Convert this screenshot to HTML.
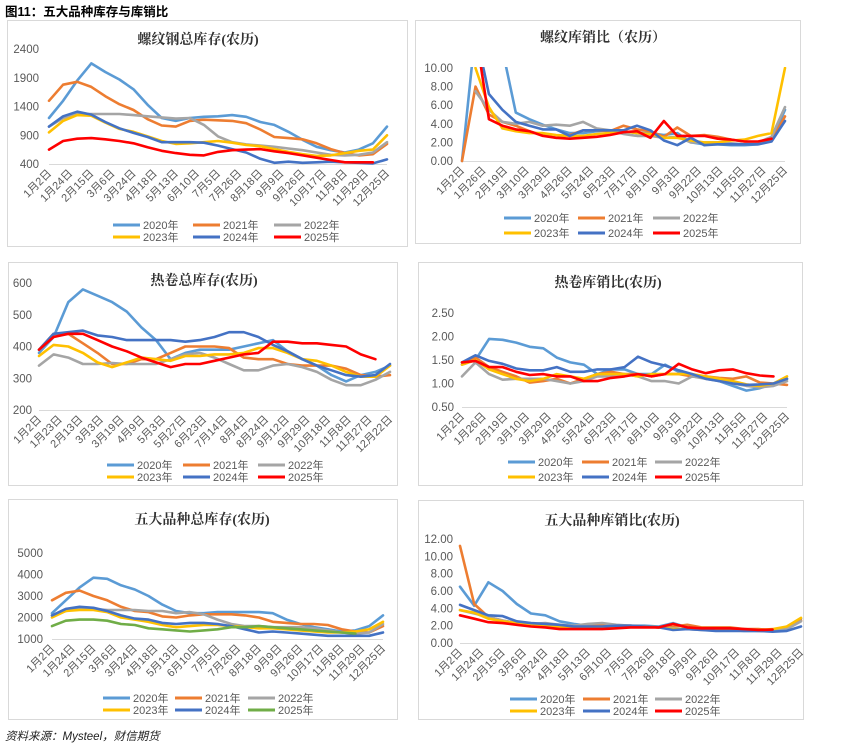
<!DOCTYPE html>
<html><head><meta charset="utf-8">
<style>
html,body{margin:0;padding:0;background:#fff;}
svg{display:block;font-family:"Liberation Sans","Noto Sans CJK SC",sans-serif;}
.ttl{font-family:"Liberation Serif","Noto Serif CJK SC",serif;font-weight:bold;font-size:14px;fill:#333;}
.tk{font-size:11.5px;fill:#595959;}
.xl{font-size:11px;fill:#595959;}
.lg{font-size:11px;fill:#595959;}
</style></head>
<body>
<svg id="s" width="865" height="743" viewBox="0 0 865 743" xmlns="http://www.w3.org/2000/svg">
<text x="5" y="16" style="font-size:12.5px;font-weight:bold;font-family:'Liberation Sans','Noto Sans CJK SC',sans-serif" fill="#000">图11：五大品种库存与库销比</text>
<text x="5" y="740" style="font-size:11.5px;font-style:italic" fill="#222">资料来源：Mysteel，财信期货</text>
</svg>
<script>
// ---- labels ----
const xLabelsA = ["1月2日","1月24日","2月15日","3月6日","3月24日","4月18日","5月13日","6月10日","7月5日","7月26日","8月18日","9月9日","9月26日","10月17日","11月8日","11月29日","12月25日"];
const xLabelsB = ["1月2日","1月26日","2月19日","3月10日","3月29日","4月26日","5月24日","6月23日","7月17日","8月10日","9月3日","9月22日","10月13日","11月5日","11月27日","12月25日"];
const xLabelsC = ["1月2日","1月23日","2月13日","3月3日","3月19日","4月9日","5月3日","5月27日","6月23日","7月14日","8月4日","8月24日","9月12日","9月29日","10月18日","11月8日","11月27日","12月22日"];
const seriesNames = ["2020年","2021年","2022年","2023年","2024年","2025年"];
const yTicks1 = [400,900,1400,1900,2400];
const yTicks2 = [0,2,4,6,8,10];
const yTicks3 = [200,300,400,500,600];
const yTicks4 = [0.5,1.0,1.5,2.0,2.5];
const yTicks5 = [1000,2000,3000,4000,5000];
const yTicks6 = [0,2,4,6,8,10,12];
// ---- chart 1: rebar inventory ----
const rebarInv2020 = [1200,1500,1850,2150,2000,1870,1700,1430,1200,1150,1200,1220,1230,1250,1220,1130,1080,960,820,700,640,600,650,760,1050];
const rebarInv2021 = [1500,1780,1830,1740,1580,1440,1340,1180,1070,1050,1150,1170,1160,1150,1110,1000,870,850,830,760,660,590,550,570,750];
const rebarInv2022 = [1050,1200,1270,1270,1270,1270,1250,1230,1210,1190,1200,1080,880,780,740,720,700,670,640,600,560,550,560,600,780];
const rebarInv2023 = [950,1150,1250,1240,1120,1010,960,880,800,750,760,780,800,770,730,710,660,610,570,540,550,590,630,650,900];
const rebarInv2024 = [1050,1230,1310,1260,1130,1020,940,870,780,780,780,770,720,660,600,490,420,440,420,430,440,430,420,410,480];
const rebarInv2025 = [650,800,840,850,830,800,760,690,630,590,560,550,610,640,650,660,620,590,550,510,470,430,430,430,null];
// ---- chart 2: rebar ratio ----
const rebarRat2020 = [0,14,14,12,5.2,4.5,3.9,3.4,3.0,3.0,3.2,3.3,3.2,3.0,3.0,2.8,3.0,2.0,1.8,1.8,1.7,1.7,1.8,2.2,5.5];
const rebarRat2021 = [0,8,5,4.2,3.8,3.2,2.8,2.5,2.8,3.3,3.3,3.2,3.8,3.4,3.2,2.6,3.6,2.7,2.8,2.6,2.3,2.1,2.0,2.2,4.8];
const rebarRat2022 = [null,7.5,5.5,4.2,4.0,4.2,3.8,3.9,3.8,4.2,3.5,3.3,2.9,2.7,2.7,2.5,2.6,2.0,2.0,2.0,1.9,1.8,2.0,2.6,5.8];
const rebarRat2023 = [null,10,5.8,3.5,3.2,3.0,3.0,2.8,2.7,2.7,2.9,3.0,3.2,3.0,2.9,2.5,2.5,2.2,2.0,2.0,2.2,2.3,2.7,3.0,10];
const rebarRat2024 = [null,14,7.2,5.5,4.2,3.8,3.4,3.4,2.7,3.3,3.3,3.3,3.3,3.8,3.3,2.2,1.7,2.5,1.7,1.8,1.8,1.8,1.8,2.1,4.3];
const rebarRat2025 = [null,14,4.5,3.8,3.4,3.2,2.7,2.5,2.4,2.5,2.6,2.8,3.1,3.2,2.5,4.3,2.7,2.7,2.7,2.4,2.3,2.1,2.1,2.4,null];
// ---- chart 3: HRC inventory ----
const hrcInv2020 = [380,430,540,580,560,540,510,460,420,360,380,390,390,390,400,410,420,385,360,340,310,290,310,320,340];
const hrcInv2021 = [390,440,440,410,380,345,345,360,360,380,400,400,400,395,365,360,360,345,340,340,340,330,310,305,310];
const hrcInv2022 = [340,375,365,345,345,348,345,345,345,360,375,380,365,345,325,325,340,345,335,320,295,278,278,295,320];
const hrcInv2023 = [370,405,400,380,350,335,350,365,360,355,370,370,375,375,380,395,395,380,360,355,340,320,305,305,340];
const hrcInv2024 = [390,440,445,450,435,430,420,420,420,420,415,420,430,445,445,430,405,385,360,340,325,310,305,310,345];
const hrcInv2025 = [390,430,440,440,420,400,385,365,350,335,345,345,355,365,375,380,415,415,410,410,405,400,375,360,null];
// ---- chart 4: HRC ratio ----
const hrcRat2020 = [1.4,1.5,1.95,1.93,1.87,1.78,1.75,1.55,1.45,1.4,1.2,1.3,1.3,1.2,1.2,1.4,1.25,1.15,1.12,1.05,0.95,0.85,0.9,1.0,1.1];
const hrcRat2021 = [1.45,1.55,1.35,1.25,1.15,1.02,1.05,1.1,1.0,1.1,1.2,1.25,1.2,1.2,1.15,1.2,1.2,1.15,1.15,1.12,1.1,1.15,1.02,1.0,0.97];
const hrcRat2022 = [1.15,1.45,1.2,1.08,1.1,1.1,1.1,1.05,1.0,1.05,1.15,1.15,1.2,1.15,1.05,1.05,1.0,1.15,1.1,1.05,1.0,0.95,0.92,0.95,1.05];
const hrcRat2023 = [1.4,1.5,1.3,1.2,1.1,1.05,1.1,1.2,1.15,1.1,1.2,1.2,1.2,1.15,1.2,1.2,1.2,1.2,1.15,1.1,1.05,0.98,0.95,1.0,1.15];
const hrcRat2024 = [1.45,1.6,1.48,1.42,1.32,1.28,1.28,1.35,1.25,1.25,1.3,1.3,1.35,1.57,1.45,1.38,1.28,1.2,1.1,1.05,1.0,0.97,0.98,1.0,1.1];
const hrcRat2025 = [1.45,1.48,1.35,1.35,1.25,1.18,1.2,1.15,1.15,1.05,1.05,1.12,1.15,1.2,1.15,1.2,1.42,1.3,1.22,1.28,1.3,1.22,1.17,1.15,null];
// ---- chart 5: five-variety inventory ----
const fiveInv2020 = [2200,2800,3400,3850,3800,3500,3300,3000,2600,2300,2200,2200,2250,2250,2250,2250,2200,1900,1700,1550,1450,1350,1400,1600,2100];
const fiveInv2021 = [2800,3150,3250,3000,2800,2500,2300,2250,2050,2000,2100,2150,2150,2150,2100,2000,1800,1750,1700,1700,1650,1450,1350,1300,1600];
const fiveInv2022 = [2100,2300,2400,2400,2350,2350,2350,2300,2300,2200,2250,2150,1900,1700,1600,1600,1550,1550,1550,1500,1400,1300,1250,1300,1700];
const fiveInv2023 = [2000,2300,2350,2350,2250,2000,1900,1800,1650,1550,1600,1650,1650,1600,1550,1500,1500,1450,1400,1350,1300,1300,1350,1450,1800];
const fiveInv2024 = [2100,2400,2500,2450,2300,2100,1950,1900,1750,1700,1750,1750,1700,1600,1450,1300,1350,1300,1250,1200,1150,1150,1150,1150,1300];
const fiveInv2025 = [1600,1850,1900,1900,1850,1700,1650,1500,1450,1400,1350,1400,1450,1550,1550,1600,1550,1500,1450,1400,1350,1300,1250,null,null];
// ---- chart 6: five-variety ratio ----
const fiveRat2020 = [6.5,4.3,7.0,6.0,4.5,3.4,3.2,2.5,2.2,2.0,2.0,2.0,2.0,2.0,1.9,2.3,1.8,1.6,1.5,1.5,1.4,1.4,1.5,1.8,2.8];
const fiveRat2021 = [11.2,4.5,3.0,2.6,2.3,2.2,2.0,2.0,1.9,2.0,2.0,2.0,2.0,1.9,1.8,1.9,2.1,1.8,1.8,1.8,1.6,1.6,1.5,1.8,2.6];
const fiveRat2022 = [3.8,3.4,3.0,2.6,2.3,2.2,2.3,2.1,2.0,2.2,2.3,2.1,2.0,1.9,1.8,1.7,1.6,1.5,1.5,1.5,1.5,1.4,1.4,1.6,2.5];
const fiveRat2023 = [3.8,3.5,2.8,2.5,2.3,2.1,2.0,1.8,1.7,1.7,1.8,1.9,1.9,1.9,1.8,1.6,1.6,1.6,1.6,1.5,1.5,1.5,1.6,1.9,2.9];
const fiveRat2024 = [4.4,3.8,3.2,3.1,2.5,2.3,2.2,2.1,1.9,1.9,1.9,2.0,2.0,1.9,1.8,1.5,1.6,1.5,1.4,1.4,1.4,1.4,1.3,1.4,1.9];
const fiveRat2025 = [3.2,2.8,2.4,2.3,2.1,1.9,1.8,1.6,1.6,1.6,1.6,1.7,1.8,1.8,1.8,2.2,1.8,1.7,1.7,1.7,1.6,1.5,1.55,null,null];

const colorsA = ["#5B9BD5","#ED7D31","#A5A5A5","#FFC000","#4472C4","#FF0000"];
const colorsG = ["#5B9BD5","#ED7D31","#A5A5A5","#FFC000","#4472C4","#70AD47"];

const charts = [
 {id:"rebar-inventory",title:"螺纹钢总库存(农历)",box:[7,20,400,226],tx:198,ty:44,pl:49,pr:387,pt:49,pb:164,labR:39,yt:yTicks1,dec:0,xl:xLabelsA,
  series:[rebarInv2020,rebarInv2021,rebarInv2022,rebarInv2023,rebarInv2024,rebarInv2025],colors:colorsA,lgx:[113,193,274],lgy:[225,237]},
 {id:"rebar-ratio",title:"螺纹库销比（农历）",box:[415,20,385,223],tx:603,ty:42,pl:462,pr:785,pt:68,pb:161,labR:453,yt:yTicks2,dec:2,xl:xLabelsB,
  series:[rebarRat2020,rebarRat2021,rebarRat2022,rebarRat2023,rebarRat2024,rebarRat2025],colors:colorsA,lgx:[504,578,653],lgy:[218,233]},
 {id:"hrc-inventory",title:"热卷总库存(农历)",box:[8,262,389,223],tx:204,ty:285,pl:39,pr:390,pt:283,pb:410,labR:32,yt:yTicks3,dec:0,xl:xLabelsC,
  series:[hrcInv2020,hrcInv2021,hrcInv2022,hrcInv2023,hrcInv2024,hrcInv2025],colors:colorsA,lgx:[107,183,258],lgy:[465,477]},
 {id:"hrc-ratio",title:"热卷库销比(农历)",box:[418,262,384,223],tx:608,ty:287,pl:462,pr:787,pt:313,pb:407,labR:454,yt:yTicks4,dec:2,xl:xLabelsB,
  series:[hrcRat2020,hrcRat2021,hrcRat2022,hrcRat2023,hrcRat2024,hrcRat2025],colors:colorsA,lgx:[508,582,655],lgy:[462,477]},
 {id:"five-inventory",title:"五大品种总库存(农历)",box:[8,499,389,220],tx:202,ty:524,pl:52,pr:383,pt:553,pb:639,labR:43,yt:yTicks5,dec:0,xl:xLabelsA,
  series:[fiveInv2020,fiveInv2021,fiveInv2022,fiveInv2023,fiveInv2024,fiveInv2025],colors:colorsG,lgx:[103,175,248],lgy:[698,710]},
 {id:"five-ratio",title:"五大品种库销比(农历)",box:[418,500,385,219],tx:612,ty:525,pl:460,pr:801,pt:539,pb:643,labR:453,yt:yTicks6,dec:2,xl:xLabelsA,
  series:[fiveRat2020,fiveRat2021,fiveRat2022,fiveRat2023,fiveRat2024,fiveRat2025],colors:colorsA,lgx:[510,583,655],lgy:[699,711]}
];

const svg = document.getElementById('s');
const NS = "http://www.w3.org/2000/svg";
function mk(tag, attrs, parent){const e=document.createElementNS(NS,tag);for(const k in attrs)e.setAttribute(k,attrs[k]);(parent||svg).appendChild(e);return e;}

charts.forEach((c,ci)=>{
  const g = mk('g',{});
  
  
  const b = mk('rect',{x:c.box[0]+0.5,y:c.box[1]+0.5,width:c.box[2],height:c.box[3],fill:'#fff',stroke:'#d9d9d9','stroke-width':1},g);
  
  
  const t = mk('text',{x:c.tx,y:c.ty,'text-anchor':'middle',class:'ttl'},g);
  t.textContent = c.title;
  
  
  const ymin=c.yt[0], ymax=c.yt[c.yt.length-1];
  const yS = v => c.pb - (v-ymin)/(ymax-ymin)*(c.pb-c.pt);
  const n = c.series[0].length;
  const xS = i => c.pl + i*(c.pr-c.pl)/(n-1);
  c.yt.forEach(v=>{
    const tt = mk('text',{x:c.labR,y:yS(v)+4,'text-anchor':'end',class:'tk'},g);
    tt.textContent = v.toFixed(c.dec);
    
    
  });
  const ax = mk('line',{x1:c.pl,x2:c.pr,y1:c.pb+0.5,y2:c.pb+0.5,stroke:'#d9d9d9','stroke-width':1},g);
  
  
  const nl = c.xl.length;
  c.xl.forEach((lab,k)=>{
    const x = c.pl + k*(c.pr-c.pl)/(nl-1) + 3;
    const y = c.pb + 10;
    const tt = mk('text',{x:x,y:y,'text-anchor':'end',class:'xl',transform:`rotate(-45 ${x} ${y})`},g);
    tt.textContent = lab;
    
    
  });
  const cid = 'clip'+ci;
  const cp = mk('clipPath',{id:cid},g);
  mk('rect',{x:c.pl-5,y:c.pt-1,width:c.pr-c.pl+10,height:c.pb-c.pt+3},cp);
  const sg = mk('g',{'clip-path':`url(#${cid})`},g);
  c.series.forEach((arr,si)=>{
    let d='', pen=false;
    arr.forEach((v,i)=>{
      if(v===null){pen=false;return;}
      d += (pen?'L':'M') + xS(i).toFixed(1)+','+yS(v).toFixed(1);
      pen=true;
    });
    const p = mk('path',{d:d,fill:'none',stroke:c.colors[si],'stroke-width':2.6,'stroke-linejoin':'round','stroke-linecap':'round'},sg);
    
    
  });
  seriesNames.forEach((nm,si)=>{
    const lx = c.lgx[si%3], ly = c.lgy[Math.floor(si/3)];
    const lg = mk('g',{},g);
    
    
    mk('line',{x1:lx,x2:lx+27,y1:ly,y2:ly,stroke:c.colors[si],'stroke-width':3},lg);
    const lt = mk('text',{x:lx+30,y:ly+4,class:'lg'},lg);
    lt.textContent = nm;
  });
});
</script>
</body></html>
